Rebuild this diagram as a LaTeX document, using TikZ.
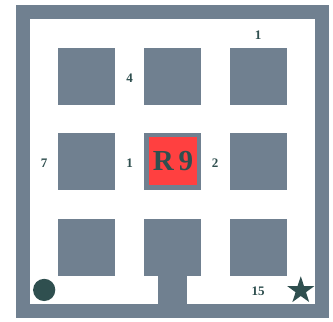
\documentclass[tikz,border=0pt]{standalone}
\usepackage{fontspec}
\setmainfont{Liberation Serif}
\usetikzlibrary{shapes.geometric}
\definecolor{mzwall}{HTML}{708090}
\definecolor{mzred}{HTML}{FF4040}
\definecolor{mzdark}{HTML}{2F4F4F}

\begin{document}
\begin{tikzpicture}[
  wall/.style={fill=mzwall, draw=none},
  cost/.style={text=mzdark, inner sep=0pt,
               font=\bfseries\fontsize{13}{13}\selectfont},
  room/.style={fill=mzred, text=mzdark, minimum size=1.68cm, inner sep=0pt,
               font=\bfseries\fontsize{29}{29}\selectfont},
  marker/.style={fill=mzdark, draw=none, inner sep=0pt}
]
\useasboundingbox (-1.05,-0.6) rectangle (10.63,10.67);
% outer wall and floor
\fill[wall] (-0.5,-0.5) rectangle (10.5,10.5);
\fill[white] (0,0) rectangle (10,10);
\foreach \i in {1,4,7}
  \foreach \j in {1,4,7}
    \fill[wall] (\i,\j) rectangle ++(2,2);
\fill[wall] (4.5,0) rectangle (5.5,1);
\node[room] (r9) at (5.02,5.02) {R\,9};
% costs
\node[cost] (c1) at (8.0,9.44) {1};
\node[cost] (c4) at (3.5,7.93) {4};
\node[cost] (c7) at (0.5,4.95) {7};
\node[cost] (cl) at (3.5,4.95) {1};
\node[cost] (cr) at (6.5,4.95) {2};
\node[cost] (c15) at (8.0,0.46) {15};
% start and goal
\node[marker, circle, minimum size=0.78cm] (start) at (0.5,0.5) {};
\node[marker, star, star points=5, star point ratio=2.6, minimum size=1.0cm] (goal) at (9.5,0.48) {};
\end{tikzpicture}
\end{document}
